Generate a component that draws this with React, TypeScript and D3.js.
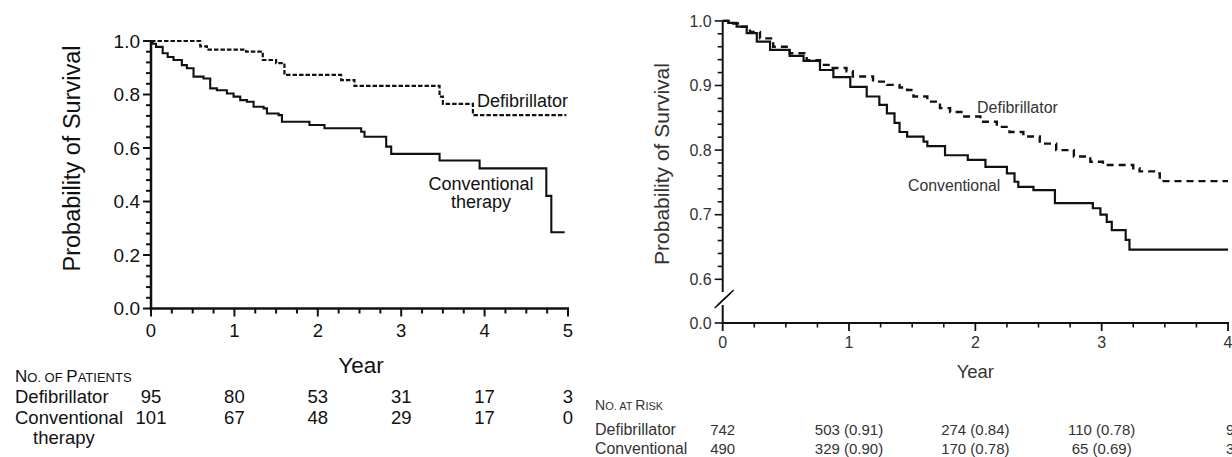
import React from "react";
import * as d3 from "d3";

// ---------- DATA ----------
// Left panel (Kaplan–Meier, years 0–5)
const leftYears = [0, 1, 2, 3, 4, 5];
const leftYTicks = [0, 0.2, 0.4, 0.6, 0.8, 1.0];
const leftDefibT = [0, 0.59, 0.67, 1.14, 1.34, 1.5, 1.6, 2.28, 2.44, 3.46, 3.5, 3.86, 4.98];
const leftDefibS = [1.0, 0.98, 0.968, 0.96, 0.929, 0.917, 0.873, 0.854, 0.832, 0.792, 0.765, 0.723, 0.723];
const leftConvT = [0, 0.02, 0.06, 0.14, 0.2, 0.27, 0.37, 0.43, 0.51, 0.63, 0.71, 0.79, 0.91, 0.99, 1.07, 1.15, 1.23, 1.35, 1.39, 1.53, 1.57, 1.9, 2.08, 2.52, 2.56, 2.82, 2.88, 3.46, 3.94, 4.74, 4.8, 4.96];
const leftConvS = [1.0, 0.99, 0.978, 0.954, 0.94, 0.929, 0.91, 0.898, 0.867, 0.86, 0.823, 0.816, 0.804, 0.792, 0.779, 0.773, 0.754, 0.748, 0.729, 0.723, 0.698, 0.686, 0.674, 0.661, 0.642, 0.605, 0.578, 0.553, 0.524, 0.421, 0.285, 0.285];
const leftDefibPatients = ["95", "80", "53", "31", "17", "3"];
const leftConvPatients = ["101", "67", "48", "29", "17", "0"];

// Right panel (Kaplan–Meier, years 0–4, broken y axis)
const rightYears = [0, 1, 2, 3, 4];
const rightYTicks = [0.0, 0.6, 0.7, 0.8, 0.9, 1.0];
const rightDefibT = [0, 0.06, 0.137, 0.216, 0.295, 0.4, 0.53, 0.665, 0.77, 0.85, 0.98, 1.03, 1.19, 1.3, 1.4, 1.46, 1.51, 1.62, 1.72, 1.8, 1.9, 2.04, 2.17, 2.27, 2.38, 2.51, 2.64, 2.78, 2.91, 3.01, 3.25, 3.3, 3.44, 3.46, 4.0];
const rightDefibS = [1.0, 0.996, 0.991, 0.983, 0.973, 0.96, 0.95, 0.939, 0.932, 0.927, 0.922, 0.914, 0.906, 0.901, 0.897, 0.893, 0.883, 0.875, 0.865, 0.859, 0.852, 0.844, 0.836, 0.828, 0.821, 0.81, 0.8, 0.79, 0.782, 0.777, 0.772, 0.767, 0.764, 0.752, 0.752];
const rightConvT = [0, 0.044, 0.11, 0.19, 0.27, 0.375, 0.53, 0.64, 0.77, 0.876, 1.01, 1.14, 1.24, 1.3, 1.36, 1.4, 1.46, 1.59, 1.62, 1.76, 1.94, 2.08, 2.25, 2.31, 2.34, 2.46, 2.63, 2.93, 2.99, 3.04, 3.08, 3.19, 3.22, 4.0];
const rightConvS = [1.0, 0.997, 0.991, 0.981, 0.968, 0.955, 0.946, 0.938, 0.924, 0.913, 0.898, 0.883, 0.87, 0.857, 0.842, 0.828, 0.821, 0.813, 0.806, 0.792, 0.785, 0.774, 0.764, 0.751, 0.743, 0.738, 0.718, 0.71, 0.7, 0.689, 0.676, 0.661, 0.646, 0.646];
const rightDefibRisk = ["742", "503 (0.91)", "274 (0.84)", "110 (0.78)", "9"];
const rightConvRisk = ["490", "329 (0.90)", "170 (0.78)", "65 (0.69)", "3"];

const FONT = "'Liberation Sans', Arial, Helvetica, sans-serif";

export default function App() {
  // ---------- Left scales ----------
  const lx = d3.scaleLinear().domain([0, 5]).range([151, 568]);
  const ly = d3.scaleLinear().domain([0, 1]).range([308.5, 41]);
  const lLine = d3
    .line<[number, number]>()
    .x((d) => lx(d[0]))
    .y((d) => ly(d[1]))
    .curve(d3.curveStepAfter);
  const lDef = lLine(leftDefibT.map((t, i) => [t, leftDefibS[i]] as [number, number])) || "";
  const lConv = lLine(leftConvT.map((t, i) => [t, leftConvS[i]] as [number, number])) || "";
  const lYMinor = d3.range(0, 1.0001, 0.04).filter((v) => Math.abs(v * 5 - Math.round(v * 5)) > 1e-6);
  const lXMinor = d3.range(0, 5.0001, 0.25).filter((v) => Math.abs(v - Math.round(v)) > 1e-6);

  // ---------- Right scales ----------
  const rx = d3.scaleLinear().domain([0, 4]).range([722.7, 1228]);
  const ry = d3.scaleLinear().domain([0, 0.6, 1.0]).range([323, 279.3, 20.9]);
  const rLine = d3
    .line<[number, number]>()
    .x((d) => rx(d[0]))
    .y((d) => ry(d[1]))
    .curve(d3.curveStepAfter);
  const rDef = rLine(rightDefibT.map((t, i) => [t, rightDefibS[i]] as [number, number])) || "";
  const rConv = rLine(rightConvT.map((t, i) => [t, rightConvS[i]] as [number, number])) || "";
  const rYMinor = d3.range(0.6, 1.0001, 0.02).filter((v) => Math.abs(v * 10 - Math.round(v * 10)) > 1e-6);
  const rXMinor = d3.range(0, 4.0001, 0.25).filter((v) => Math.abs(v - Math.round(v)) > 1e-6);

  const ax0 = lx(0);
  const ay0 = ly(0);
  const rax0 = rx(0);
  const ray0 = ry(0);
  const breakY = 298;

  const ink = "#111";
  const grey = "#333";

  return (
    <svg
      width={1232}
      height={457}
      style={{ position: "absolute", left: 0, top: 0, background: "#fff" }}
      fontFamily={FONT}
    >
      <rect x={0} y={0} width={1232} height={457} fill="#fff" />

      {/* ================= LEFT PANEL ================= */}
      <g>
        {/* curves */}
        <path d={lConv} fill="none" stroke={ink} strokeWidth={2.1} />
        <path d={lDef} fill="none" stroke={ink} strokeWidth={2.2} strokeDasharray="4.5,2" />

        {/* axes */}
        <line x1={ax0} y1={ly(1)} x2={ax0} y2={ay0 + 1.2} stroke={ink} strokeWidth={2.5} />
        <line x1={ax0 - 1.2} y1={ay0} x2={lx(5) + 1} y2={ay0} stroke={ink} strokeWidth={2.5} />
        {leftYTicks.map((v) => (
          <g key={"ly" + v}>
            <line x1={ax0 - 8} x2={ax0} y1={ly(v)} y2={ly(v)} stroke={ink} strokeWidth={2} />
            <text x={ax0 - 11} y={ly(v) + 6.5} textAnchor="end" fontSize={19} fill={ink}>
              {d3.format(".1f")(v)}
            </text>
          </g>
        ))}
        {lYMinor.map((v) => (
          <line key={"lym" + v} x1={ax0 - 5} x2={ax0} y1={ly(v)} y2={ly(v)} stroke={ink} strokeWidth={2} />
        ))}
        {leftYears.map((t) => (
          <g key={"lx" + t}>
            <line x1={lx(t)} x2={lx(t)} y1={ay0} y2={ay0 + 8} stroke={ink} strokeWidth={2} />
            <text x={lx(t)} y={ay0 + 28} textAnchor="middle" fontSize={18.5} fill={ink}>
              {t}
            </text>
          </g>
        ))}
        {lXMinor.map((t) => (
          <line key={"lxm" + t} x1={lx(t)} x2={lx(t)} y1={ay0} y2={ay0 + 5} stroke={ink} strokeWidth={2} />
        ))}

        {/* axis titles */}
        <text x={361} y={373} textAnchor="middle" fontSize={22.5} fill={ink}>
          Year
        </text>
        <text
          transform="translate(72,158.5) rotate(-90)"
          textAnchor="middle"
          dy="0.36em"
          fontSize={23.5}
          fill={ink}
        >
          Probability of Survival
        </text>

        {/* curve labels */}
        <text x={477} y={106.5} fontSize={18} fill={ink}>
          Defibrillator
        </text>
        <text x={481} y={189.5} textAnchor="middle" fontSize={18} fill={ink}>
          Conventional
        </text>
        <text x={481} y={207.5} textAnchor="middle" fontSize={18} fill={ink}>
          therapy
        </text>

        {/* table */}
        <text x={15} y={382} fill={ink}>
          <tspan fontSize={17}>N</tspan>
          <tspan fontSize={13}>O. OF </tspan>
          <tspan fontSize={17}>P</tspan>
          <tspan fontSize={13}>ATIENTS</tspan>
        </text>
        <text x={15} y={402.5} fontSize={18.5} fill={ink}>
          Defibrillator
        </text>
        <text x={15} y={423.5} fontSize={18.5} fill={ink}>
          Conventional
        </text>
        <text x={33} y={444} fontSize={18.5} fill={ink}>
          therapy
        </text>
        {leftYears.map((t, i) => (
          <g key={"lt" + t}>
            <text x={lx(t)} y={402.5} textAnchor="middle" fontSize={18.5} fill={ink}>
              {leftDefibPatients[i]}
            </text>
            <text x={lx(t)} y={423.5} textAnchor="middle" fontSize={18.5} fill={ink}>
              {leftConvPatients[i]}
            </text>
          </g>
        ))}
      </g>

      {/* ================= RIGHT PANEL ================= */}
      <g>
        <path d={rConv} fill="none" stroke={ink} strokeWidth={2.2} />
        <path d={rDef} fill="none" stroke={ink} strokeWidth={2.4} strokeDasharray="7,5" />

        {/* y axis with break */}
        <line x1={rax0} y1={ry(1)} x2={rax0} y2={breakY - 6} stroke={ink} strokeWidth={2} />
        <line x1={rax0} y1={breakY + 7} x2={rax0} y2={ray0 + 1} stroke={ink} strokeWidth={2} />
        <line x1={rax0 - 8} y1={breakY + 10} x2={rax0 + 8} y2={breakY - 5} stroke={ink} strokeWidth={1.6} />
        <line x1={rax0 - 5} y1={breakY + 7} x2={rax0 + 11} y2={breakY - 8} stroke={ink} strokeWidth={1.6} />
        <line x1={rax0 - 1} y1={ray0} x2={rx(4) + 1} y2={ray0} stroke={ink} strokeWidth={2} />

        {rightYTicks.map((v) => (
          <g key={"ry" + v}>
            <line x1={rax0 - 8} x2={rax0} y1={ry(v)} y2={ry(v)} stroke={ink} strokeWidth={1.6} />
            <text x={rax0 - 11} y={ry(v) + 5.7} textAnchor="end" fontSize={16} fill={grey}>
              {d3.format(".1f")(v)}
            </text>
          </g>
        ))}
        {rYMinor.map((v) => (
          <line key={"rym" + v} x1={rax0 - 5} x2={rax0} y1={ry(v)} y2={ry(v)} stroke={ink} strokeWidth={1.6} />
        ))}
        {rightYears.map((t) => (
          <g key={"rx" + t}>
            <line x1={rx(t)} x2={rx(t)} y1={ray0} y2={ray0 + 8} stroke={ink} strokeWidth={1.8} />
            <text x={rx(t)} y={ray0 + 25} textAnchor="middle" fontSize={16} fill={grey}>
              {t}
            </text>
          </g>
        ))}
        {rXMinor.map((t) => (
          <line key={"rxm" + t} x1={rx(t)} x2={rx(t)} y1={ray0} y2={ray0 + 4.5} stroke={ink} strokeWidth={1.6} />
        ))}

        <text x={rx(2)} y={378} textAnchor="middle" fontSize={18.5} fill={grey}>
          Year
        </text>
        <text
          transform="translate(661.5,164) rotate(-90)"
          textAnchor="middle"
          dy="0.36em"
          fontSize={21}
          fill={grey}
        >
          Probability of Survival
        </text>

        <text x={977} y={113} fontSize={16} fill={grey}>
          Defibrillator
        </text>
        <text x={908} y={190.7} fontSize={15.8} fill={grey}>
          Conventional
        </text>

        {/* table */}
        <text x={595} y={410} fill={grey}>
          <tspan fontSize={14}>N</tspan>
          <tspan fontSize={11}>O. AT </tspan>
          <tspan fontSize={14}>R</tspan>
          <tspan fontSize={11}>ISK</tspan>
        </text>
        <text x={595} y={434.5} fontSize={16} fill={grey}>
          Defibrillator
        </text>
        <text x={595} y={453.5} fontSize={15.8} fill={grey}>
          Conventional
        </text>
        {rightYears.map((t, i) => {
          const last = i === rightYears.length - 1;
          const x = last ? rx(t) - 2 : rx(t);
          const anchor = last ? "start" : "middle";
          return (
            <g key={"rt" + t}>
              <text x={x} y={434.5} textAnchor={anchor} fontSize={15} fill={grey}>
                {rightDefibRisk[i]}
              </text>
              <text x={x} y={453.5} textAnchor={anchor} fontSize={15} fill={grey}>
                {rightConvRisk[i]}
              </text>
            </g>
          );
        })}
      </g>
    </svg>
  );
}
